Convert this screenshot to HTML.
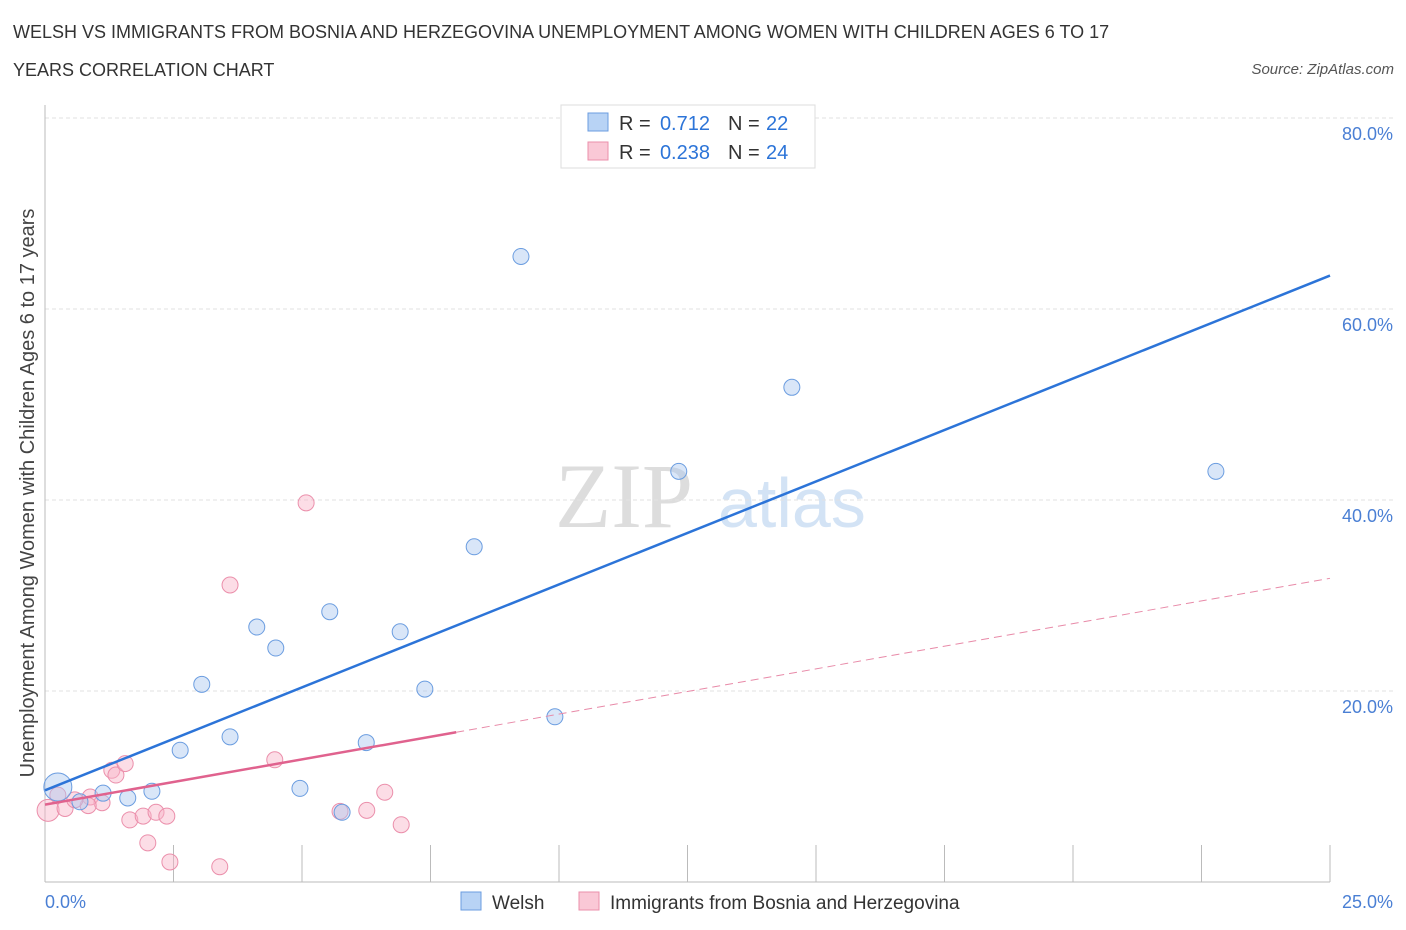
<!DOCTYPE html>
<html><head><meta charset="utf-8"><style>
body{margin:0;background:#fff;font-family:"Liberation Sans",sans-serif;}
#wrap{position:relative;width:1406px;height:930px;overflow:hidden;}
.t{position:absolute;white-space:nowrap;}
</style></head><body>
<div id="wrap">
<div class="t" style="left:13px;top:22px;font-size:18px;color:#333;">WELSH VS IMMIGRANTS FROM BOSNIA AND HERZEGOVINA UNEMPLOYMENT AMONG WOMEN WITH CHILDREN AGES 6 TO 17</div>
<div class="t" style="left:13px;top:60px;font-size:18px;color:#333;">YEARS CORRELATION CHART</div>
<div class="t" style="right:12px;top:61px;font-size:15px;color:#555;font-style:italic;">Source: ZipAtlas.com</div>
<svg id="svg" width="1406" height="930" style="position:absolute;left:0;top:0"></svg>
</div>
<script>
const welshX=[0.25,0.68,1.13,1.61,2.08,2.63,3.05,3.6,4.12,4.49,5.54,5.78,6.25,4.96,6.91,7.39,8.35,9.26,9.92,12.33,14.53,22.78];
const welshY=[9.95,8.4,9.3,8.8,9.5,13.8,20.7,15.2,26.7,24.5,28.3,7.3,14.6,9.8,26.2,20.2,35.1,65.5,17.3,43.0,51.8,43.0];
const bosX=[0.06,0.39,0.88,1.11,0.84,1.3,1.38,1.56,1.65,1.91,2.0,2.16,2.37,2.43,3.4,3.6,4.47,5.08,5.74,6.26,6.61,6.93,0.25,0.58];
const bosY=[7.5,7.7,8.9,8.3,8.0,11.7,11.2,12.4,6.5,6.9,4.1,7.3,6.9,2.1,1.6,31.1,12.8,39.7,7.4,7.5,9.4,6.0,9.1,8.6];
const welshTrend=[9.6,63.5];
const bosTrend=[8.1,31.8];
const bosSolidEnd=8.0;
const yTicks=[20,40,60,80];
const yTickLabels=["20.0%","40.0%","60.0%","80.0%"];
const xTickCount=10;
const X=v=>45+v/25*1285, Y=v=>882-v/20*191;
const svg=document.getElementById('svg');const NS='http://www.w3.org/2000/svg';
function mk(tag,a,name,p){const e=document.createElementNS(NS,tag);for(const k in a)e.setAttribute(k,a[k]);


(p||svg).appendChild(e);return e;}
let w=mk('text',{x:555,y:527,'font-size':92,fill:'#ddd','font-family':'Liberation Serif'},'watermark-zip');w.textContent='ZIP';
w=mk('text',{x:718,y:527,'font-size':70,fill:'#d3e3f5','font-family':'Liberation Sans'},'watermark-atlas');w.textContent='atlas';
yTicks.forEach((v,i)=>{mk('line',{x1:45,x2:1395,y1:Y(v),y2:Y(v),stroke:'#e2e2e2','stroke-dasharray':'4,3'},'y-gridline');
const t=mk('text',{x:1393,y:Y(v)+22,'text-anchor':'end','font-size':18,fill:'#4a7fd4'},'y-tick-label');t.textContent=yTickLabels[i];});
mk('line',{x1:45,x2:45,y1:105,y2:882,stroke:'#bbb'},'y-axis');
mk('line',{x1:45,x2:1330,y1:882,y2:882,stroke:'#bbb'},'x-axis');
for(let i=1;i<=xTickCount;i++){const x=X(25*i/xTickCount);mk('line',{x1:x,x2:x,y1:845,y2:882,stroke:'#bbb'},'x-tick');}
let t=mk('text',{x:45,y:908,'font-size':18,fill:'#4a7fd4'},'x-tick-label-min');t.textContent='0.0%';
t=mk('text',{x:1393,y:908,'text-anchor':'end','font-size':18,fill:'#4a7fd4'},'x-tick-label-max');t.textContent='25.0%';
t=mk('text',{x:34,y:493,'text-anchor':'middle','font-size':20,fill:'#444',transform:'rotate(-90 34 493)'},'y-axis-title');t.textContent='Unemployment Among Women with Children Ages 6 to 17 years';
bosX.forEach((x,i)=>mk('circle',{cx:X(x),cy:Y(bosY[i]),r:i==0?11:8,fill:'rgba(248,180,200,0.45)',stroke:'#eb8fab','stroke-width':1},'bosnia-point'));
welshX.forEach((x,i)=>mk('circle',{cx:X(x),cy:Y(welshY[i]),r:i==0?14:8,fill:'rgba(170,200,240,0.45)',stroke:'#6b9de0','stroke-width':1},'welsh-point'));
const by=x=>bosTrend[0]+(bosTrend[1]-bosTrend[0])*x/25;
mk('line',{x1:X(bosSolidEnd),y1:Y(by(bosSolidEnd)),x2:X(25),y2:Y(by(25)),stroke:'#e88aa8','stroke-width':1,'stroke-dasharray':'8,5'},'bosnia-trend-dashed');
mk('line',{x1:X(0),y1:Y(by(0)),x2:X(bosSolidEnd),y2:Y(by(bosSolidEnd)),stroke:'#e0628e','stroke-width':2.5},'bosnia-trend');
mk('line',{x1:X(0),y1:Y(welshTrend[0]),x2:X(25),y2:Y(welshTrend[1]),stroke:'#2c74d8','stroke-width':2.5},'welsh-trend');
const g=mk('g',{},'legend');
mk('rect',{x:561,y:105,width:254,height:63,fill:'#fff',stroke:'#ddd'},'legend-box',g);
[[122,'#b8d3f5','#6b9de0','0.712','22'],[151,'#fac8d6','#eb8fab','0.238','24']].forEach(r=>{
mk('rect',{x:588,y:r[0]-9,width:20,height:18,fill:r[1],stroke:r[2]},'legend-swatch',g);
let a=mk('text',{x:619,y:r[0]+8,'font-size':20,fill:'#333'},'legend-r-label',g);a.textContent='R =';
a=mk('text',{x:710,y:r[0]+8,'font-size':20,fill:'#2c74d8','text-anchor':'end'},'legend-r-value',g);a.textContent=r[3];
a=mk('text',{x:728,y:r[0]+8,'font-size':20,fill:'#333'},'legend-n-label',g);a.textContent='N =';
a=mk('text',{x:766,y:r[0]+8,'font-size':20,fill:'#2c74d8'},'legend-n-value',g);a.textContent=r[4];});
mk('rect',{x:461,y:892,width:20,height:18,fill:'#b8d3f5',stroke:'#6b9de0'},'legend-welsh-swatch');
t=mk('text',{x:492,y:909,'font-size':19,fill:'#333'},'legend-welsh-label');t.textContent='Welsh';
mk('rect',{x:579,y:892,width:20,height:18,fill:'#fac8d6',stroke:'#eb8fab'},'legend-bosnia-swatch');
t=mk('text',{x:610,y:909,'font-size':19,fill:'#333'},'legend-bosnia-label');t.textContent='Immigrants from Bosnia and Herzegovina';
</script>
</body></html>
